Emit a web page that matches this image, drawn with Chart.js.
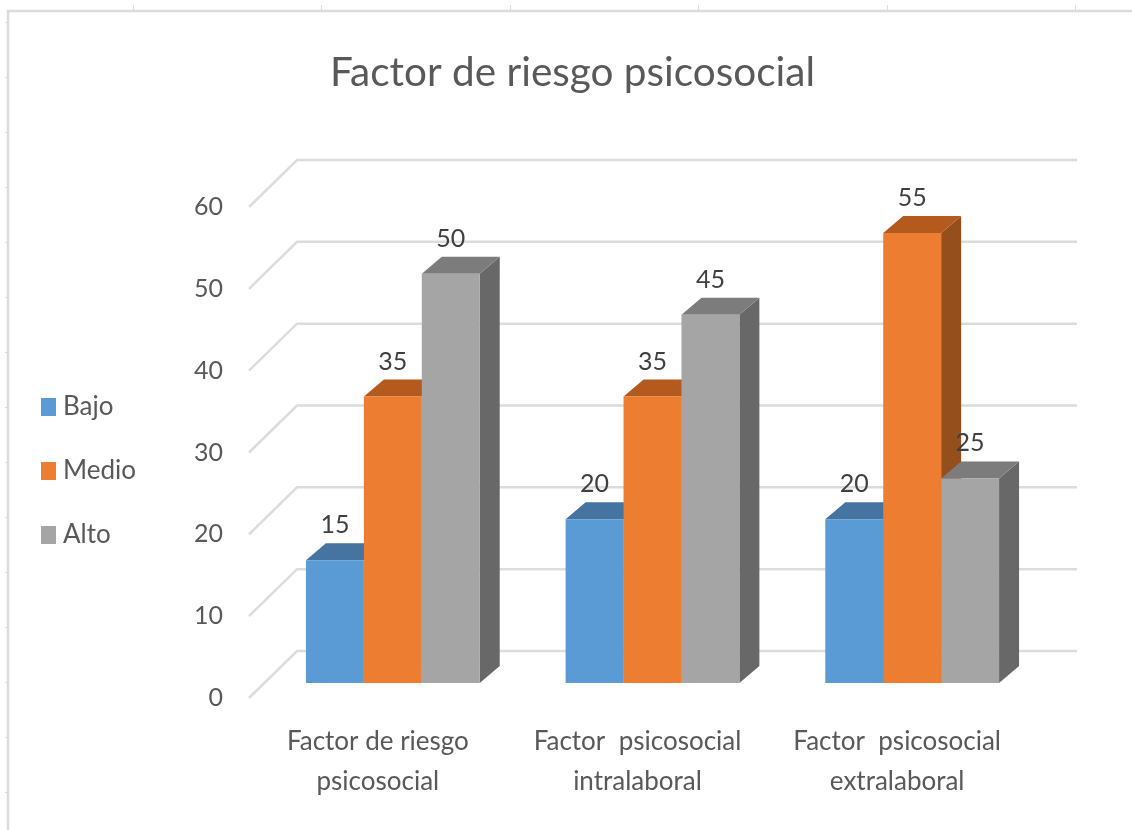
<!DOCTYPE html>
<html>
<head>
<meta charset="utf-8">
<style>html,body{margin:0;padding:0;background:#fff}canvas{display:block}</style>
<script src="https://cdn.jsdelivr.net/npm/chart.js@4/dist/chart.umd.min.js"></script>
</head>
<body>
<canvas id="c" width="1132" height="830"></canvas>
<script>
const titleText = 'Factor de riesgo psicosocial';
const categories = [['Factor de riesgo','psicosocial'],['Factor  psicosocial','intralaboral'],['Factor  psicosocial','extralaboral']];
const bajo = [15,20,20];
const medio = [35,35,55];
const alto = [50,45,25];
const yTicks = [0,10,20,30,40,50,60];
const fronts = ['#5b9bd5','#ed7d31','#a5a5a5'];
const tops = ['#44749f','#b55a1e','#7c7c7c'];
const sides = ['#3d6a94','#954f1c','#686868'];
const depth = {dx:20, dy:-17};
const wall = {dx:34, dy:-32, frontDx:-14, frontDy:15, right:35};
const FONT = 'Lato, Carlito, sans-serif';

function swatch(color){
  const k = document.createElement('canvas');
  k.width = 15; k.height = 18;
  const g = k.getContext('2d');
  g.fillStyle = color;
  g.fillRect(0,0,15,18);
  return k;
}
const swatches = fronts.map(swatch);

const frame = {
  id:'frame',
  beforeDraw(chart){
    const c = chart.ctx;
    c.save();
    c.strokeStyle = '#dcdcdc';
    c.lineWidth = 2.5;
    c.beginPath();
    c.moveTo(8,830); c.lineTo(8,11); c.lineTo(1132,11);
    c.stroke();
    c.lineWidth = 1;
    c.beginPath();
    [133,321,510,698,887,1075].forEach(x=>{c.moveTo(x+.5,5);c.lineTo(x+.5,10);});
    for(let y=22;y<830;y+=55){c.moveTo(5,y+.5);c.lineTo(8,y+.5);}
    c.stroke();
    c.restore();
  }
};

const walls = {
  id:'walls',
  beforeDatasetsDraw(chart){
    const c = chart.ctx, a = chart.chartArea, s = chart.scales.y;
    c.save();
    c.strokeStyle = '#dcdcdc';
    c.lineWidth = 2.5;
    yTicks.forEach(v=>{
      const y = s.getPixelForValue(v);
      c.beginPath();
      c.moveTo(a.left+wall.frontDx, y+wall.frontDy);
      c.lineTo(a.left+wall.dx, y+wall.dy);
      c.lineTo(a.right+wall.right, y+wall.dy);
      c.stroke();
    });
    c.restore();
  }
};

function poly(c,pts,fill){
  c.fillStyle = fill;
  c.beginPath();
  pts.forEach((p,i)=> i?c.lineTo(p[0],p[1]):c.moveTo(p[0],p[1]));
  c.closePath();
  c.fill();
}

const solid = {
  id:'solid',
  beforeDatasetDraw(){ return false; },
  afterDatasetsDraw(chart){
    const c = chart.ctx;
    c.save();
    chart.data.datasets.forEach((d,i)=>{
      chart.getDatasetMeta(i).data.forEach(b=>{
        const h = b.getProps(['x','y','base','width'],true);
        const l = h.x-h.width/2, r = h.x+h.width/2;
        poly(c,[[r,h.y],[r+depth.dx,h.y+depth.dy],[r+depth.dx,h.base+depth.dy],[r,h.base]],sides[i]);
        poly(c,[[l,h.y],[r,h.y],[r+depth.dx,h.y+depth.dy],[l+depth.dx,h.y+depth.dy]],tops[i]);
        b.draw(c);
      });
    });
    c.font = '400 25px '+FONT;
    c.fillStyle = '#404040';
    c.textAlign = 'center';
    c.textBaseline = 'middle';
    chart.data.datasets.forEach((d,i)=>{
      chart.getDatasetMeta(i).data.forEach((b,j)=>{
        c.fillText(String(d.data[j]), b.x, b.y-35);
      });
    });
    c.restore();
  }
};

const shift = {
  id:'shift',
  afterLayout(chart){
    const l = chart.legend;
    if(l){ l.top += 56; l.bottom += 56; }
    const t = chart.titleBlock;
    if(t){ t.left += 47; t.right += 47; }
  }
};

new Chart(document.getElementById('c').getContext('2d'),{
  type:'bar',
  data:{
    labels:categories,
    datasets:[
      {label:'Bajo',data:bajo,backgroundColor:fronts[0]},
      {label:'Medio',data:medio,backgroundColor:fronts[1]},
      {label:'Alto',data:alto,backgroundColor:fronts[2]}
    ]
  },
  plugins:[frame,walls,solid,shift],
  options:{
    responsive:false,
    animation:false,
    layout:{padding:{left:9,right:90,top:0,bottom:0}},
    datasets:{bar:{barPercentage:1,categoryPercentage:174/260}},
    plugins:{
      title:{display:true,text:titleText,color:'#595959',font:{family:FONT,size:40.5,weight:'400'},padding:{top:49,bottom:94.4}},
      tooltip:{enabled:false},
      legend:{
        position:'left',
        labels:{
          boxWidth:3,boxHeight:18,padding:38,color:'#595959',font:{family:FONT,size:26},usePointStyle:true,
          generateLabels(chart){
            const items = Chart.defaults.plugins.legend.labels.generateLabels(chart);
            items.forEach((it,i)=>{ it.pointStyle = swatches[i]; });
            return items;
          }
        }
      }
    },
    scales:{
      x:{
        afterFit(s){ s.height = 147; },
        grid:{display:false,drawTicks:false},
        border:{display:false},
        ticks:{color:'#595959',font:{family:FONT,size:26,lineHeight:1.55},padding:38,labelOffset:-15,maxRotation:0,autoSkip:false}
      },
      y:{
        afterFit(s){ s.width = 117; },
        min:0,max:60,
        grid:{display:false,drawTicks:false},
        border:{display:false},
        ticks:{stepSize:10,color:'#595959',font:{family:FONT,size:25},padding:40,labelOffset:15}
      }
    }
  }
});
</script>
</body>
</html>
